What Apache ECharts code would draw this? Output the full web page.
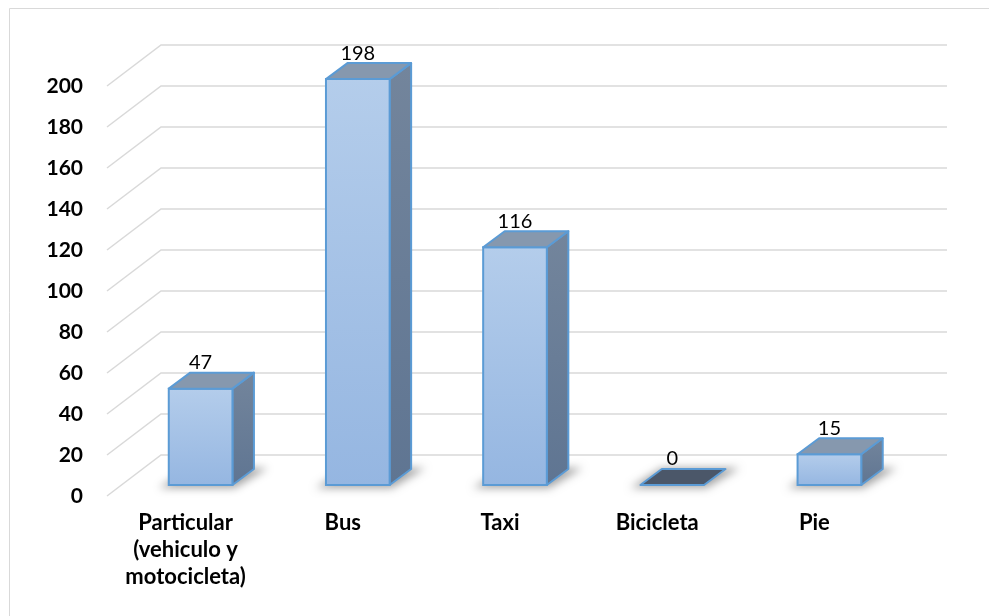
<!DOCTYPE html>
<html>
<head>
<meta charset="utf-8">
<script src="https://cdn.jsdelivr.net/npm/echarts@6/dist/echarts.min.js"></script>
<style>
  html, body { margin: 0; padding: 0; background: #ffffff; }
  #chart { width: 989px; height: 616px; }
</style>
</head>
<body>
<div id="chart"></div>
<script>
// Modo de transporte y número de personas
const categories = ['Particular\n(vehiculo y\nmotocicleta)', 'Bus', 'Taxi', 'Bicicleta', 'Pie'];
const values = [47, 198, 116, 0, 15];
const yTicks = [0, 20, 40, 60, 80, 100, 120, 140, 160, 180, 200];

// perspective of the 3D box: full floor depth and the slab occupied by bars
const WALL_DX = 54, WALL_DY = -41;
const FRONT_DX = 15, FRONT_DY = -11;
const BAR_DX = 21.5, BAR_DY = -16;
const BAR_RATIO = 0.405;

const chart = echarts.init(document.getElementById('chart'), null, { renderer: 'canvas' });

const font = 'Lato, "Open Sans", sans-serif';

function renderGrid(params, api) {
  const cs = params.coordSys;
  const v = api.value(1);
  const y = api.coord([0, v])[1];
  const left = cs.x, right = cs.x + cs.width;
  return {
    type: 'polyline',
    shape: {
      points: [
        [left, y],
        [left + WALL_DX, y + WALL_DY],
        [right + WALL_DX, y + WALL_DY]
      ]
    },
    style: { stroke: '#d9d9d9', lineWidth: 1.5, fill: null }
  };
}

function renderBar(params, api) {
  const idx = api.value(0);
  const v = api.value(1);
  const base = api.coord([idx, 0]);
  const top = api.coord([idx, v]);
  const w = api.size([1, 0])[0] * BAR_RATIO;
  const x0 = base[0] - w / 2 + FRONT_DX;
  const x1 = x0 + w;
  const yb = base[1] + FRONT_DY;
  const yt = top[1] + FRONT_DY;
  const border = '#5b9bd5';
  const children = [];

  // soft floor shadow (shape drawn off to the side, only its shadow lands here)
  const OFF = 3000;
  children.push({
    type: 'polygon',
    shape: {
      points: [
        [x0 - 10 + OFF, yb + 3],
        [x1 + 2 + OFF, yb + 3],
        [x1 + BAR_DX + 14 + OFF, yb + BAR_DY - 1],
        [x0 + BAR_DX + OFF, yb + BAR_DY - 1]
      ]
    },
    style: {
      fill: 'rgba(0,0,0,0.6)',
      shadowColor: 'rgba(0,0,0,0.6)',
      shadowBlur: 9,
      shadowOffsetX: -OFF,
      shadowOffsetY: 0
    },
    silent: true
  });

  if (v > 0) {
    // side face
    children.push({
      type: 'polygon',
      shape: { points: [[x1, yt], [x1 + BAR_DX, yt + BAR_DY], [x1 + BAR_DX, yb + BAR_DY], [x1, yb]] },
      style: {
        fill: new echarts.graphic.LinearGradient(0, 0, 0, 1, [
          { offset: 0, color: '#73859c' },
          { offset: 1, color: '#5f7592' }
        ]),
        stroke: border, lineWidth: 2, lineJoin: 'round'
      }
    });
    // front face
    children.push({
      type: 'rect',
      shape: { x: x0, y: yt, width: w, height: yb - yt },
      style: {
        fill: new echarts.graphic.LinearGradient(0, 0, 0, 1, [
          { offset: 0, color: '#b4cdeb' },
          { offset: 1, color: '#95b6e1' }
        ]),
        stroke: border, lineWidth: 2
      }
    });
  }
  // top face
  children.push({
    type: 'polygon',
    shape: { points: [[x0, yt], [x1, yt], [x1 + BAR_DX, yt + BAR_DY], [x0 + BAR_DX, yt + BAR_DY]] },
    style: {
      fill: v > 0 ? '#8698ae' : '#4b5769',
      stroke: border, lineWidth: 2, lineJoin: 'round'
    }
  });
  // value label
  children.push({
    type: 'text',
    style: {
      text: String(v),
      x: (x0 + x1) / 2,
      y: yt + BAR_DY - 10,
      align: 'center',
      verticalAlign: 'middle',
      fill: '#000000',
      font: '20px ' + font
    }
  });
  return { type: 'group', children: children };
}

chart.setOption({
  animation: false,
  backgroundColor: '#ffffff',
  graphic: [{
    type: 'rect',
    shape: { x: 9.5, y: 8.5, width: 1200, height: 800 },
    style: { fill: null, stroke: '#d9d9d9', lineWidth: 1 },
    z: 0
  }],
  grid: { left: 107, right: 96, top: 86, bottom: 120 },
  xAxis: {
    type: 'category',
    data: categories,
    axisLine: { show: false },
    axisTick: { show: false },
    axisLabel: {
      margin: 13,
      color: '#000000',
      fontFamily: font,
      fontWeight: 'bold',
      fontSize: 22,
      lineHeight: 27
    }
  },
  yAxis: {
    type: 'value',
    min: 0,
    max: 200,
    interval: 20,
    axisLine: { show: false },
    axisTick: { show: false },
    splitLine: { show: false },
    axisLabel: {
      margin: 24,
      color: '#000000',
      fontFamily: font,
      fontWeight: 'bold',
      fontSize: 21
    }
  },
  series: [
    {
      type: 'custom',
      renderItem: renderGrid,
      data: yTicks.map(v => [0, v]),
      encode: { x: 0, y: 1 },
      silent: true,
      z: 1
    },
    {
      type: 'custom',
      renderItem: renderBar,
      data: categories.map((c, i) => [i, values[i]]),
      encode: { x: 0, y: 1 },
      z: 2
    }
  ]
});
</script>
</body>
</html>
